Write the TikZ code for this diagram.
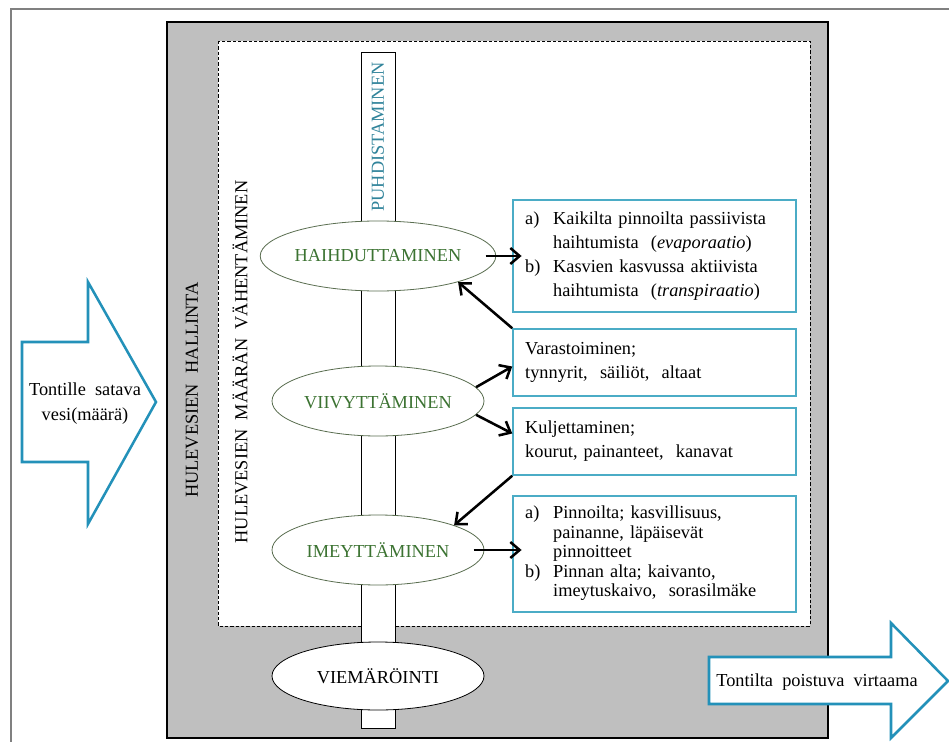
\documentclass[tikz,border=0pt]{standalone}
\usepackage{fontspec}
\setmainfont{Liberation Serif}
\usetikzlibrary{arrows.meta,shapes.geometric}
\definecolor{aqua}{RGB}{75,172,198}
\definecolor{arrowblue}{RGB}{35,145,185}
\definecolor{leaf}{RGB}{60,115,50}
\definecolor{leafline}{RGB}{90,110,80}
\definecolor{tealtext}{RGB}{49,132,155}
\definecolor{wallgray}{RGB}{191,191,191}

\begin{document}
\begin{tikzpicture}[x=0.75pt, y=-0.75pt,
	every node/.style={font=\fontsize{13.75}{18}\selectfont},
	phase/.style={ellipse, draw=leafline, line width=0.6pt, fill=white, text=leaf, minimum width=159pt, minimum height=52.5pt, inner sep=0pt},
	infobox/.style={draw=aqua, line width=1.1pt, fill=white, minimum width=212.25pt, text width=194pt, inner xsep=9pt, align=left},
	flow/.style={-{Straight Barb[length=7pt,width=12pt]}, line width=1.9pt},
	bigarrow/.style={draw=arrowblue, line width=1.9pt, fill=white, line join=miter}]
			%%%%% START %%%%%
			
			\useasboundingbox (0,0) rectangle (949,742);
			\clip (0,0) rectangle (949,742);
			
			\draw[line width=1.5pt, color=black!50] (11,9) rectangle (960,760);
			
			\draw[fill=wallgray, line width=0.8pt] (167,22) rectangle (828,738);
			\draw[fill=white, dashed, dash pattern=on 2.5pt off 1.5pt, line width=0.6pt] (218,41) rectangle (810,626);
			
			\draw[fill=white, line width=0.7pt] (361,52) rectangle (395,728);
			
			\node[rotate=90] (hallinta) at (192,390) {HULEVESIEN\hspace{8pt}HALLINTA};
			\node[rotate=90] (vahent) at (240,362) {HULEVESIEN\hspace{7pt}MÄÄRÄN\hspace{7pt}VÄHENTÄMINEN};
			\node[rotate=90, text=tealtext] (puh) at (378,137) {PUHDISTAMINEN};
			
			\node[phase] (hai) at (378,256) {HAIHDUTTAMINEN};
			\node[phase] (vii) at (378,401) {VIIVYTTÄMINEN};
			\node[phase] (ime) at (378,550) {IMEYTTÄMINEN};
			\node[phase, draw=black, text=black, minimum height=51pt] (vie) at (378,676) {VIEMÄRÖINTI};
			
			\node[infobox, minimum height=84pt] (box1) at (654.5,256) {%
				\begin{tabular}{@{}p{21pt}@{}l@{}}
				a) & Kaikilta\ pinnoilta\ passiivista\\
				   & haihtumista\ \ (\textit{evaporaatio})\\
				b) & Kasvien\ kasvussa\ aktiivista\\
				   & haihtumista\ \ (\textit{transpiraatio})
				\end{tabular}};
			\node[infobox, minimum height=50.25pt] (box2) at (654.5,362.5) {Varastoiminen;\\tynnyrit,\ \ säiliöt,\ \ altaat};
			\node[infobox, minimum height=50.25pt] (box3) at (654.5,441.5) {Kuljettaminen;\\kourut,\ painanteet,\ \ kanavat};
			\node[infobox, minimum height=87pt, font=\fontsize{13.75}{14.6}\selectfont] (box4) at (654.5,554) {%
				\begin{tabular}{@{}p{21pt}@{}l@{}}
				a) & Pinnoilta;\ kasvillisuus,\\
				   & painanne,\ läpäisevät\\
				   & pinnoitteet\\
				b) & Pinnan\ alta;\ kaivanto,\\
				   & imeytuskaivo,\ \ sorasilmäke
				\end{tabular}};
			
			\draw[flow, shorten <=-8pt, shorten >=-7pt] (hai.east) -- (hai.east -| box1.west);
			\draw[flow] (box2.north west) -- (hai.-18);
			\draw[flow] (vii.8) -- ([yshift=-3pt]box2.west);
			\draw[flow] (vii.-8) -- ([yshift=6pt]box3.west);
			\draw[flow] (box3.south west) -- (ime.18);
			\draw[flow, shorten <=-8pt, shorten >=-7pt] (ime.east) -- (ime.east -| box4.west);
			
			\draw[bigarrow] (22,342) -- (88,342) -- (88,282) -- (156,402) -- (88,524) -- (88,462) -- (22,462) -- cycle;
			\node[align=center, font=\fontsize{13.75}{18.75}\selectfont] (inflow) at (85,404) {Tontille\ \ satava\\vesi(määrä)};
			
			\draw[bigarrow] (709,657) -- (891,657) -- (891,623) -- (948,681) -- (891,738) -- (891,704) -- (709,704) -- cycle;
			\node (outflow) at (817,682) {Tontilta\ \ poistuva\ \ virtaama};
			
			%%%%% END %%%%%
\end{tikzpicture}
\end{document}
